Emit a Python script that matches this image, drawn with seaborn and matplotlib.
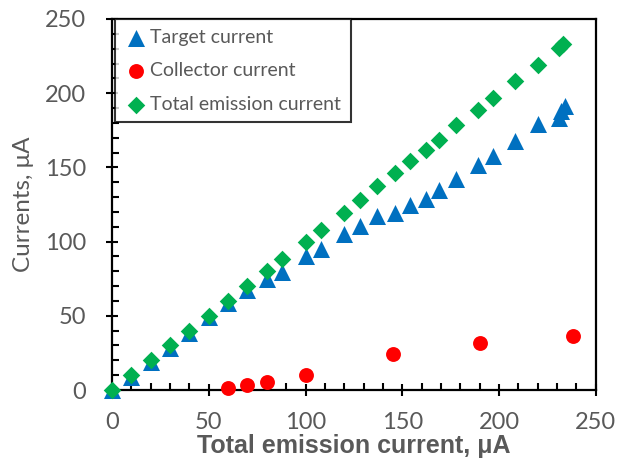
import matplotlib
matplotlib.use("Agg")
import matplotlib.pyplot as plt
import seaborn as sns
import pandas as pd
from matplotlib.ticker import MultipleLocator

# ---- data ----
total_x = [0, 10, 20, 30, 40, 50, 60, 70, 80, 88, 100, 108, 120, 128, 137, 146, 154, 162, 169, 178, 189, 197, 208, 220, 231, 233]
total_y = [0, 10, 20, 30, 40, 50, 60, 70, 80, 88.5, 100, 108, 119.6, 128, 137.3, 146.3, 154.4, 161.6, 168.5, 178.8, 188.9, 197, 208.3, 219.3, 230.7, 233.4]

target_x = [0, 10, 20, 30, 40, 50, 60, 70, 80, 88, 100, 108, 120, 128, 137, 146, 154, 162, 169, 178, 189, 197, 208, 220, 231, 232, 234]
target_y = [0, 9, 19, 28.5, 38.5, 49, 58.5, 67.5, 74.5, 79.5, 90, 95, 105, 110.5, 117, 119, 124.7, 129, 134.8, 142, 151.5, 157.8, 168, 179.5, 183.5, 188, 191.5]

collector_x = [60, 70, 80, 100, 145, 190, 238]
collector_y = [1.1, 3.4, 5.4, 10, 24.3, 31.5, 36.4]

series_names = ["Target current", "Collector current", "Total emission current"]
x_label = "Total emission current, μA"
y_label = "Currents, μA"

df = pd.concat([
    pd.DataFrame({"x": target_x, "y": target_y, "series": series_names[0]}),
    pd.DataFrame({"x": collector_x, "y": collector_y, "series": series_names[1]}),
    pd.DataFrame({"x": total_x, "y": total_y, "series": series_names[2]}),
], ignore_index=True)

# ---- style ----
sns.set_style("white")
plt.rcParams['font.family'] = ['Lato', 'DejaVu Sans']
gray = "#595959"

fig = plt.figure(figsize=(6.4, 4.62), dpi=100)
ax = fig.add_axes([0.175, 0.1558, 0.756, 0.8031])

colors = {"Target current": "#0070C0", "Collector current": "#FF0000", "Total emission current": "#00B050"}
markers = {"Target current": "^", "Collector current": "o", "Total emission current": "D"}
sizes = {"Target current": 150, "Collector current": 115, "Total emission current": 80}

for name in series_names:
    sub = df[df["series"] == name]
    sns.scatterplot(data=sub, x="x", y="y", ax=ax, color=colors[name],
                    marker=markers[name], s=sizes[name], linewidth=0,
                    label=name, zorder=3, clip_on=False)

ax.set_xlim(0, 250)
ax.set_ylim(0, 250)
ax.xaxis.set_major_locator(MultipleLocator(50))
ax.yaxis.set_major_locator(MultipleLocator(50))
ax.xaxis.set_minor_locator(MultipleLocator(10))
ax.yaxis.set_minor_locator(MultipleLocator(10))

for side in ["left", "right", "top", "bottom"]:
    ax.spines[side].set_visible(True)
    ax.spines[side].set_color("black")
    ax.spines[side].set_linewidth(1.6)

ax.tick_params(axis="both", which="major", direction="inout", length=9, width=1.5,
               color="black", labelcolor=gray, labelsize=17, pad=14,
               bottom=True, left=True, top=False, right=False)
ax.tick_params(axis="both", which="minor", direction="in", length=5, width=1.5,
               color="black", bottom=True, left=True, top=False, right=False)
ax.tick_params(axis="x", which="major", pad=11)

ax.set_xlabel(x_label, fontsize=18, fontweight="bold", color=gray,
              family=["Liberation Sans", "DejaVu Sans"], labelpad=1)
ax.set_ylabel(y_label, fontsize=17.5, color=gray, labelpad=8)

leg = ax.legend(loc="upper left", bbox_to_anchor=(0.006, 1.0), frameon=True,
                fancybox=False, edgecolor="black", fontsize=14,
                handletextpad=0.1, borderpad=0.5, labelspacing=0.85,
                handlelength=1.2, borderaxespad=0)
leg.get_frame().set_linewidth(1.5)
for t in leg.get_texts():
    t.set_color(gray)

fig.savefig("out.png", dpi=100)
